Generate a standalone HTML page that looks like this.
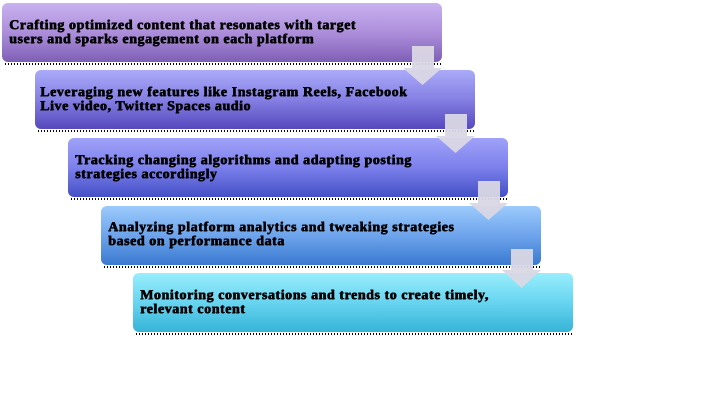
<!DOCTYPE html>
<html><head><meta charset="utf-8">
<style>
html,body{margin:0;padding:0;background:#fff;}
body{width:720px;height:420px;position:relative;overflow:hidden;font-family:"Liberation Serif","Times New Roman",serif;}
.b{position:absolute;width:440px;height:59px;border-radius:6px;}
.b::after{content:"";position:absolute;left:3px;right:0;bottom:-3px;height:2px;
 background:repeating-linear-gradient(90deg,#000 0 1px,transparent 1px 3px);}
.t{position:absolute;left:7px;top:16px;font-size:14px;line-height:14px;font-weight:bold;color:#000;white-space:nowrap;text-shadow:0.6px 0 0 #000,0 0.5px 0 #000;letter-spacing:0.55px;}
#b1{left:2px;top:3px;background:linear-gradient(#c9b2f0,#a98ad8 55%,#7e5fb6);}
#b2{left:35px;top:70px;background:linear-gradient(#aaaaf8,#8580e4 50%,#5648bd);}
#b3{left:68px;top:138px;background:linear-gradient(#a0a2f8,#7c80ec 50%,#4450c6);}
#b4{left:101px;top:206px;background:linear-gradient(#9ccafc,#6ea4ec 50%,#3a7ad0);}
#b5{left:133px;top:273px;background:linear-gradient(#98eefc,#68d4f0 50%,#36b4d8);}
#b2 .t{left:5px;}
#b4 .t{top:15px;}
svg{position:absolute;left:0;top:0;}
</style></head><body>
<div class="b" id="b1"><div class="t">Crafting optimized content that resonates with target<br>users and sparks engagement on each platform</div></div>
<div class="b" id="b2"><div class="t">Leveraging new features like Instagram Reels, Facebook<br>Live video, Twitter Spaces audio</div></div>
<div class="b" id="b3"><div class="t">Tracking changing algorithms and adapting posting<br>strategies accordingly</div></div>
<div class="b" id="b4"><div class="t">Analyzing platform analytics and tweaking strategies<br>based on performance data</div></div>
<div class="b" id="b5"><div class="t">Monitoring conversations and trends to create timely,<br>relevant content</div></div>
<svg width="720" height="420" viewBox="0 0 720 420">
<g fill="#d9d7e4" fill-opacity="0.95">
<polygon points="412,46 434,46 434,68 442,68 422.5,85 403,68 412,68"/>
<polygon points="445,114 467,114 467,136 475,136 455.5,153 436,136 445,136"/>
<polygon points="478,181 500,181 500,203 508,203 488.5,220 469,203 478,203"/>
<polygon points="511,249 533,249 533,270 541,270 521.5,288 502,270 511,270"/>
</g>
</svg>
</body></html>
